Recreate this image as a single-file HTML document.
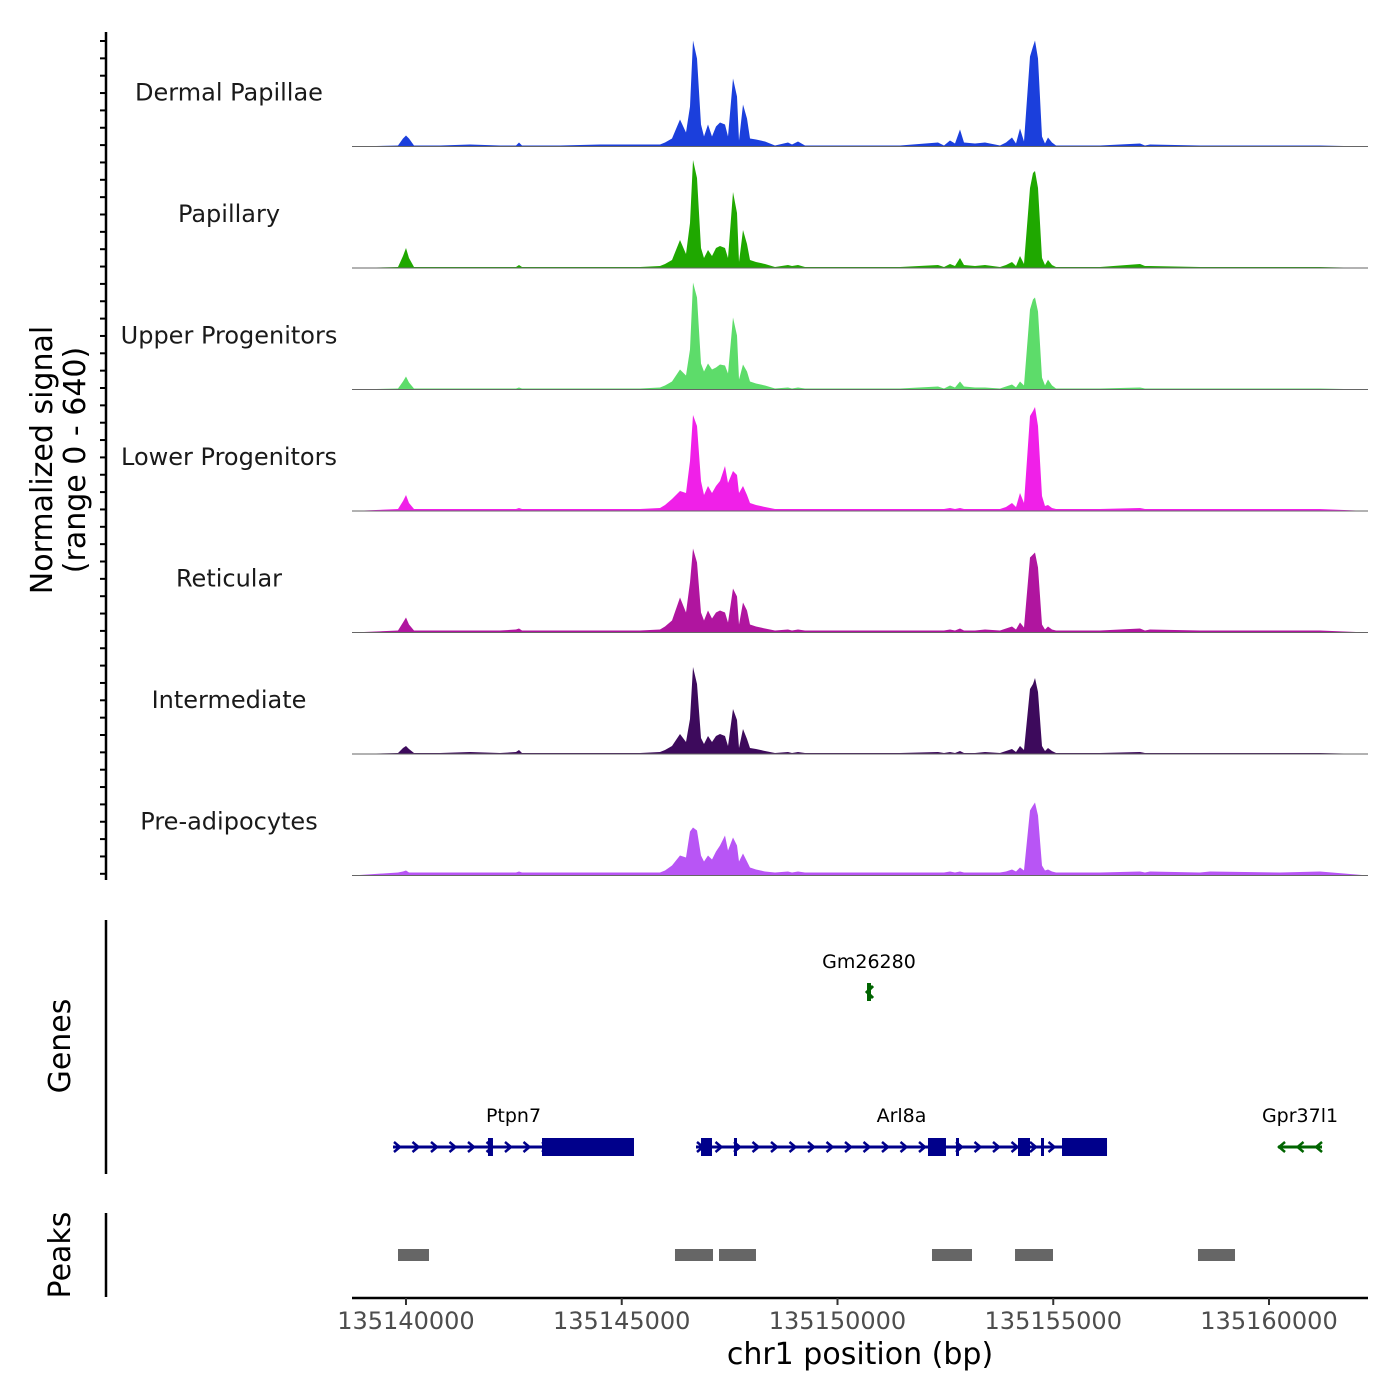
<!DOCTYPE html>
<html><head><meta charset="utf-8"><style>
html,body{margin:0;padding:0;background:#fff;}
svg{display:block;font-family:"DejaVu Sans","Liberation Sans",sans-serif;}
</style></head><body>
<svg id="chart" width="1400" height="1400" viewBox="0 0 1400 1400" xmlns="http://www.w3.org/2000/svg"></svg>
<script>
// ---------- data ----------
const trackNames = ["Dermal Papillae","Papillary","Upper Progenitors","Lower Progenitors","Reticular","Intermediate","Pre-adipocytes"];
const trackColors = ["#1b3fdc","#1fa800","#5ddc6a","#f020e8","#b0159f","#3d0a5c","#b855f5"];
const positions = [135138749,135139815,135139930,135140000,135140070,135140185,135140788,135141483,135142178,135142549,135142619,135142688,135143569,135144496,135145423,135145886,135146002,135146164,135146350,135146489,135146581,135146651,135146744,135146837,135146906,135146999,135147092,135147184,135147277,135147393,135147462,135147578,135147671,135147717,135147810,135147903,135147972,135148111,135148320,135148552,135148853,135148946,135149085,135149247,135149826,135151448,135152329,135152467,135152607,135152723,135152839,135152932,135153187,135153418,135153766,135153905,135154044,135154137,135154229,135154322,135154461,135154531,135154577,135154646,135154739,135154809,135154878,135154971,135155064,135156083,135157010,135157126,135157242,135158401,135158633,135160255,135161182,135162294];
const signalDermalPapillae = [0,1,8,11,8,1,1,2,1,1,4,1,1,2,2,2,4,8,27,14,40,106,88,22,10,22,10,20,24,22,10,68,50,6,42,28,8,7,5,1,4,2,5,1,1,1,4,1,6,3,17,4,3,4,1,4,9,3,18,5,90,100,106,88,10,3,9,4,1,1,3,1,2,1,1,1,1,0];
const signalPapillary = [0,1,12,20,10,1,1,1,1,1,3,1,1,1,1,2,4,8,28,14,45,108,90,20,10,18,12,20,22,20,10,76,55,6,38,24,8,6,4,1,3,2,3,1,1,1,3,1,4,2,10,3,2,3,1,3,6,2,12,4,80,95,97,80,10,3,8,3,1,1,4,2,2,1,1,1,1,0];
const signalUpperProgenitors = [0,1,8,13,7,1,1,1,1,1,2,1,1,1,1,2,4,8,20,14,40,107,92,26,18,26,20,22,25,24,16,72,54,10,25,18,8,6,4,1,2,1,2,1,1,1,3,1,4,2,8,3,2,2,1,3,5,2,8,4,80,90,92,78,12,4,10,4,1,1,2,1,1,1,1,1,1,0];
const signalLowerProgenitors = [0,2,10,16,8,2,2,2,2,2,3,2,2,2,2,3,6,12,20,18,50,96,85,30,16,25,18,25,30,45,28,40,36,18,25,16,8,6,4,2,2,2,2,2,2,2,2,2,3,2,3,2,2,2,2,4,8,4,18,8,95,100,104,85,15,5,6,3,2,2,3,2,2,2,2,2,2,0];
const signalReticular = [0,2,10,15,8,2,2,2,2,3,4,2,2,2,2,3,6,12,35,20,50,84,70,20,12,22,14,20,22,20,10,44,36,8,30,22,8,6,4,2,3,2,3,2,2,2,2,2,3,2,4,2,2,3,2,4,6,3,10,5,75,78,80,65,8,3,6,3,2,2,4,2,3,2,2,2,2,0];
const signalIntermediate = [0,1,6,8,5,1,1,2,1,2,4,1,1,1,1,2,4,8,20,12,35,87,70,16,10,18,12,18,20,18,8,45,34,6,25,15,6,5,3,1,2,1,2,1,1,1,2,1,2,1,3,1,1,2,1,3,5,2,8,4,65,70,76,62,8,3,6,3,1,1,2,1,1,1,1,1,1,0];
const signalPreAdipocytes = [0,3,4,5,3,3,3,3,3,3,4,3,3,3,3,3,5,10,20,18,44,48,45,20,14,20,16,24,30,40,25,38,30,14,22,14,8,6,4,3,4,3,4,3,3,3,3,3,4,3,4,3,3,3,3,4,6,4,8,5,65,70,73,60,10,5,6,4,3,3,4,3,4,3,4,3,4,0];
const trackSignals = [signalDermalPapillae,signalPapillary,signalUpperProgenitors,signalLowerProgenitors,signalReticular,signalIntermediate,signalPreAdipocytes];
const signalMax = 121.5;
const xTicks = [135140000,135145000,135150000,135155000,135160000];
const xDomain = [135138749,135162294];
const geneNames = ["Ptpn7","Arl8a","Gpr37l1","Gm26280"];
const geneStarts = [135139699,135146721,135160209,135150684];
const geneEnds = [135145284,135156246,135161228,135150776];
const geneStrands = [1,1,-1,-1];
const geneExons = [
  [[135141900,135142016],[135143152,135145284]],
  [[135146837,135147092],[135147601,135147671],[135152097,135152514],[135152746,135152816],[135154183,135154461],[135154716,135154785],[135155203,135156246]],
  [],
  [[135150684,135150776]]
];
const peakStarts = [135139815,135146234,135147254,135152190,135154114,135158354];
const peakEnds = [135140533,135147115,135148111,135153117,135154994,135159212];

// ---------- drawing ----------
const NS="http://www.w3.org/2000/svg";
const svg=document.getElementById('chart');
const X0=352,X1=1368;
function xs(bp){return X0+(bp-xDomain[0])/(xDomain[1]-xDomain[0])*(X1-X0);}
function el(tag,attrs,parent){const e=document.createElementNS(NS,tag);for(const k in attrs)e.setAttribute(k,attrs[k]);(parent||svg).appendChild(e);return e;}
function txt(s,attrs,parent){const e=el('text',attrs,parent);e.textContent=s;return e;}

const trackH=121.5, firstBase=146.5;
for(let t=0;t<trackNames.length;t++){
  const base=firstBase+t*trackH;
  const g=el('g',{});
  
  
  const ys=v=>base-v/signalMax*trackH;
  let d='M'+xs(positions[0])+','+base;
  trackSignals[t].forEach((v,i)=>{d+=' L'+xs(positions[i]).toFixed(1)+','+ys(v).toFixed(1);});
  d+=' L'+xs(positions[positions.length-1])+','+base+' Z';
  const p=el('path',{d:d,fill:trackColors[t],stroke:'none'},g);
  
  
  const bl=el('line',{x1:X0,x2:X1,y1:base,y2:base,stroke:'#666',"stroke-width":1},g);
  
  
  const lb=txt(trackNames[t],{x:229,y:base-46,"text-anchor":"middle","font-size":24,fill:'#1a1a1a'},g);
  
  
}
// left axis for tracks
const la=el('line',{x1:106,x2:106,y1:32,y2:880,stroke:'#000',"stroke-width":2.5});


for(let y=41;y<=878;y+=17.35){
  const tk=el('line',{x1:100,x2:106,y1:y,y2:y,stroke:'#000',"stroke-width":2});
  
  
}
const yt=el('text',{transform:'translate(52,460) rotate(-90)',"text-anchor":"middle","font-size":30,fill:'#000'});


const t1=el('tspan',{x:0,dy:0},yt);t1.textContent='Normalized signal';
const t2=el('tspan',{x:0,dy:33},yt);t2.textContent='(range 0 - 640)';

// genes panel
const ga=el('line',{x1:106,x2:106,y1:920,y2:1174,stroke:'#000',"stroke-width":2.5});


const gt=txt('Genes',{transform:'translate(70,1046) rotate(-90)',"text-anchor":"middle","font-size":30,fill:'#000'});


for(let i=0;i<geneNames.length;i++){
  const g=el('g',{});
  
  
  const isSmall=geneNames[i]==='Gm26280';
  const col=geneStrands[i]>0?'#00008b':'#006400';
  const y=isSmall?992:1147;
  const a=xs(geneStarts[i]),b=xs(geneEnds[i]);
  el('line',{x1:a,x2:b,y1:y,y2:y,stroke:col,"stroke-width":3},g);
  if(!isSmall){
    for(let x=a+4;x<b-2;x+=18.5){
      const s=geneStrands[i];
      el('path',{d:`M${x-3*s},${y-5} L${x+3*s},${y} L${x-3*s},${y+5}`,fill:'none',stroke:col,"stroke-width":2.5},g);
    }
  }else{
    el('path',{d:`M${a+6},${y-6} L${a},${y} L${a+6},${y+6}`,fill:'none',stroke:col,"stroke-width":3},g);
  }
  geneExons[i].forEach(ex=>{
    const ea=xs(ex[0]),eb=xs(ex[1]);
    el('rect',{x:ea,y:y-9,width:Math.max(eb-ea,3),height:18,fill:col},g);
  });
  const lb=txt(geneNames[i],{x:(a+b)/2,y:isSmall?968:1122,"text-anchor":"middle","font-size":19,fill:'#000'},g);
  
  
}

// peaks panel
const pa=el('line',{x1:106,x2:106,y1:1213,y2:1297,stroke:'#000',"stroke-width":2.5});


const pt=txt('Peaks',{transform:'translate(70,1255) rotate(-90)',"text-anchor":"middle","font-size":30,fill:'#000'});


for(let i=0;i<peakStarts.length;i++){
  const r=el('rect',{x:xs(peakStarts[i]),y:1249,width:xs(peakEnds[i])-xs(peakStarts[i]),height:12,fill:'#666'});
  
  
}

// x axis
const xa=el('line',{x1:X0,x2:X1,y1:1298,y2:1298,stroke:'#000',"stroke-width":2.5});


xTicks.forEach(v=>{
  const tk=el('line',{x1:xs(v),x2:xs(v),y1:1298,y2:1305,stroke:'#333',"stroke-width":2});
  
  
  const tl=txt(String(v),{x:xs(v),y:1329,"text-anchor":"middle","font-size":24,fill:'#4d4d4d'});
  
  
});
const xt=txt('chr1 position (bp)',{x:860,y:1364,"text-anchor":"middle","font-size":30,fill:'#000'});


</script>
</body></html>
